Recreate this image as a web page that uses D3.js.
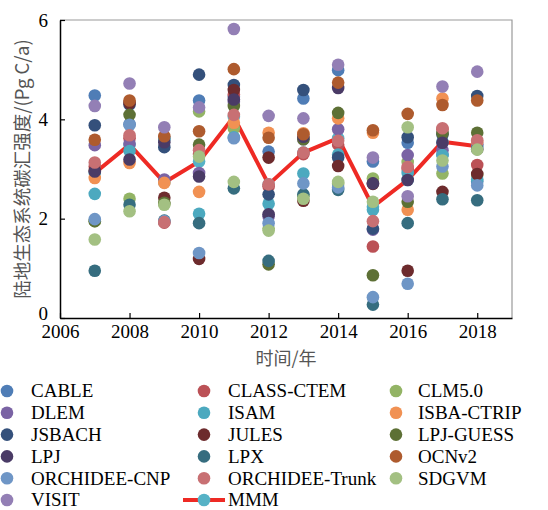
<!DOCTYPE html>
<html>
<head>
<meta charset="utf-8">
<script src="https://cdn.jsdelivr.net/npm/d3@7"></script>
<style>
  body { margin: 0; background: #fff; }
  svg { display: block; }
</style>
</head>
<body>
<div id="chart"></div>
<script>
// years on the x axis
const years = [2007, 2008, 2009, 2010, 2011, 2012, 2013, 2014, 2015, 2016, 2017, 2018];

// land sink per model, Pg C/a
const CABLE         = [4.48, 3.90, 3.62, 4.38, 4.45, 3.35, 4.42, 4.99, 3.15, 3.53, 3.28, 2.75];
const CLASS_CTEM    = [3.05, 3.62, 1.92, 3.30, 4.50, 2.65, 3.30, 3.49, 1.44, 3.00, 3.80, 3.08];
const CLM50         = [1.95, 2.40, 2.30, 4.16, 3.82, 1.80, 2.45, 2.70, 2.81, 3.14, 2.91, 2.88];
const DLEM          = [3.48, 3.51, 2.79, 2.92, 4.35, 2.05, 3.60, 3.80, 1.78, 3.28, 3.38, 3.50];
const ISAM          = [2.50, 3.36, 3.60, 2.10, 3.64, 2.30, 2.91, 3.29, 2.18, 2.92, 3.28, 2.79];
const ISBA_CTRIP    = [2.82, 3.12, 2.72, 2.54, 3.93, 3.73, 3.72, 4.02, 3.73, 2.18, 4.42, 3.55];
const JSBACH        = [3.88, 4.30, 3.44, 4.90, 4.69, 2.49, 4.59, 3.23, 1.80, 3.64, 3.70, 4.47];
const JULES         = [2.97, 4.33, 2.42, 1.19, 4.59, 3.23, 2.36, 3.06, 2.70, 0.95, 2.54, 2.90];
const LPJ_GUESS     = [1.95, 4.09, 2.32, 3.49, 4.27, 1.08, 3.60, 4.13, 0.86, 2.34, 3.72, 3.73];
const LPJ           = [2.95, 3.19, 3.54, 2.85, 4.40, 2.09, 3.65, 4.63, 2.71, 2.78, 3.53, 3.40];
const LPX           = [0.95, 2.28, 1.96, 1.91, 2.61, 1.15, 2.49, 2.58, 0.27, 1.91, 2.39, 2.37];
const OCNv2         = [3.59, 4.38, 3.66, 3.76, 5.01, 3.63, 3.70, 4.74, 3.78, 4.11, 4.29, 4.38];
const ORCHIDEE_CNP  = [1.99, 3.89, 1.95, 1.31, 3.62, 1.91, 2.71, 2.63, 0.42, 0.69, 3.05, 2.67];
const ORCHIDEE_TRNK = [3.13, 3.68, 1.93, 3.38, 4.09, 2.69, 3.33, 3.57, 1.95, 3.04, 3.82, 3.58];
const SDGVM         = [1.58, 2.15, 2.28, 3.25, 2.74, 1.76, 2.40, 2.74, 2.34, 3.84, 3.17, 3.39];
const VISIT         = [4.27, 4.72, 3.84, 4.24, 5.82, 4.07, 4.02, 5.10, 3.23, 2.45, 4.66, 4.96];

// multi-model mean
const MMM = [2.92, 3.49, 2.73, 3.15, 4.05, 2.69, 3.33, 3.62, 2.24, 2.78, 3.55, 3.46];

const models = [
  {name: 'CABLE', values: CABLE, color: '#4f7db6'},
  {name: 'CLASS-CTEM', values: CLASS_CTEM, color: '#bb5156'},
  {name: 'CLM5.0', values: CLM50, color: '#93b465'},
  {name: 'DLEM', values: DLEM, color: '#7a63a4'},
  {name: 'ISAM', values: ISAM, color: '#4ca9bf'},
  {name: 'ISBA-CTRIP', values: ISBA_CTRIP, color: '#f19153'},
  {name: 'JSBACH', values: JSBACH, color: '#34507b'},
  {name: 'JULES', values: JULES, color: '#6d2b2d'},
  {name: 'LPJ-GUESS', values: LPJ_GUESS, color: '#5d7035'},
  {name: 'LPJ', values: LPJ, color: '#4a3b66'},
  {name: 'LPX', values: LPX, color: '#366d7f'},
  {name: 'OCNv2', values: OCNv2, color: '#ae5b2e'},
  {name: 'ORCHIDEE-CNP', values: ORCHIDEE_CNP, color: '#6f96c6'},
  {name: 'ORCHIDEE-Trunk', values: ORCHIDEE_TRNK, color: '#c87073'},
  {name: 'SDGVM', values: SDGVM, color: '#a3c082'},
  {name: 'VISIT', values: VISIT, color: '#937fb5'}
];

const width = 548, height = 510;
const margin = {top: 20, right: 36, bottom: 192, left: 60};
const plotW = width - margin.left - margin.right;
const plotH = height - margin.top - margin.bottom;

const serif = '"Liberation Serif", "Times New Roman", serif';
const cjk = '"Noto Sans CJK SC", sans-serif';

const x = d3.scaleLinear().domain([2006, 2019]).range([0, plotW]);
const y = d3.scaleLinear().domain([0, 6]).range([plotH, 0]);

const svg = d3.select('#chart').append('svg')
  .attr('width', width)
  .attr('height', height);

const g = svg.append('g')
  .attr('transform', `translate(${margin.left},${margin.top})`);

// top / right frame in grey
g.append('path')
  .attr('d', `M0,0H${plotW}V${plotH}`)
  .attr('fill', 'none')
  .attr('stroke', '#9a9a9a')
  .attr('stroke-width', 1.2);

// mean line goes underneath the model dots
const line = d3.line()
  .x((d, i) => x(years[i]))
  .y(d => y(d));

g.append('path')
  .datum(MMM)
  .attr('d', line)
  .attr('fill', 'none')
  .attr('stroke', '#ee2a24')
  .attr('stroke-width', 4)
  .attr('stroke-linejoin', 'round');

g.selectAll('.mmm-dot')
  .data(MMM)
  .enter()
  .append('circle')
  .attr('class', 'mmm-dot')
  .attr('cx', (d, i) => x(years[i]))
  .attr('cy', d => y(d))
  .attr('r', 6.3)
  .attr('fill', '#56b2c6');

models.forEach(m => {
  g.selectAll(null)
    .data(m.values)
    .enter()
    .append('circle')
    .attr('cx', (d, i) => x(years[i]))
    .attr('cy', d => y(d))
    .attr('r', 6.3)
    .attr('fill', m.color);
});

// axes, ticks pointing inwards
const xAxis = d3.axisBottom(x)
  .tickValues([2006, 2008, 2010, 2012, 2014, 2016, 2018])
  .tickFormat(d3.format('d'))
  .tickSizeInner(-5)
  .tickSizeOuter(0)
  .tickPadding(7);

const yAxis = d3.axisLeft(y)
  .tickValues([0, 2, 4, 6])
  .tickFormat(d3.format('d'))
  .tickSizeInner(-5)
  .tickSizeOuter(0)
  .tickPadding(12);

const gx = g.append('g')
  .attr('transform', `translate(0,${plotH})`)
  .call(xAxis);

const gy = g.append('g').call(yAxis);

[gx, gy].forEach(a => {
  a.select('.domain').attr('stroke', '#000').attr('stroke-width', 1.5);
  a.selectAll('.tick line').attr('stroke', '#000').attr('stroke-width', 1.2);
  a.selectAll('.tick text')
    .attr('fill', '#000')
    .style('font-family', serif)
    .style('font-size', '19px');
});

// the zero label sits a little higher, as in the original
gy.selectAll('.tick text').filter(d => d === 0).attr('dy', '0.1em');

// axis titles
svg.append('text')
  .attr('x', margin.left + plotW / 2)
  .attr('y', 365)
  .attr('text-anchor', 'middle')
  .attr('fill', '#555')
  .style('font-family', cjk)
  .style('font-size', '18px')
  .text('时间/年');

svg.append('text')
  .attr('transform', `translate(29,${margin.top + plotH / 2}) rotate(-90)`)
  .attr('text-anchor', 'middle')
  .attr('fill', '#555')
  .style('font-family', cjk)
  .style('font-size', '18.5px')
  .text('陆地生态系统碳汇强度/(Pg C/a)');

// legend: 3 columns, row-major
const legendItems = models.map(m => ({name: m.name, color: m.color, mean: false}));
legendItems.push({name: 'MMM', color: '#56b2c6', mean: true});

const colX = [7, 204, 396];
const textX = [31, 228, 418];
const rowY = 391, rowH = 21.8;

const legend = svg.append('g');
legendItems.forEach((d, i) => {
  const col = i % 3, row = Math.floor(i / 3);
  const cy = rowY + row * rowH;
  if (d.mean) {
    legend.append('line')
      .attr('x1', colX[col] - 21).attr('x2', colX[col] + 21)
      .attr('y1', cy).attr('y2', cy)
      .attr('stroke', '#ee2a24')
      .attr('stroke-width', 4);
  }
  legend.append('circle')
    .attr('cx', colX[col])
    .attr('cy', cy)
    .attr('r', 6.3)
    .attr('fill', d.color);
  legend.append('text')
    .attr('x', textX[col])
    .attr('y', cy)
    .attr('dy', '0.34em')
    .attr('fill', '#000')
    .style('font-family', serif)
    .style('font-size', '19px')
    .text(d.name);
});
</script>
</body>
</html>
